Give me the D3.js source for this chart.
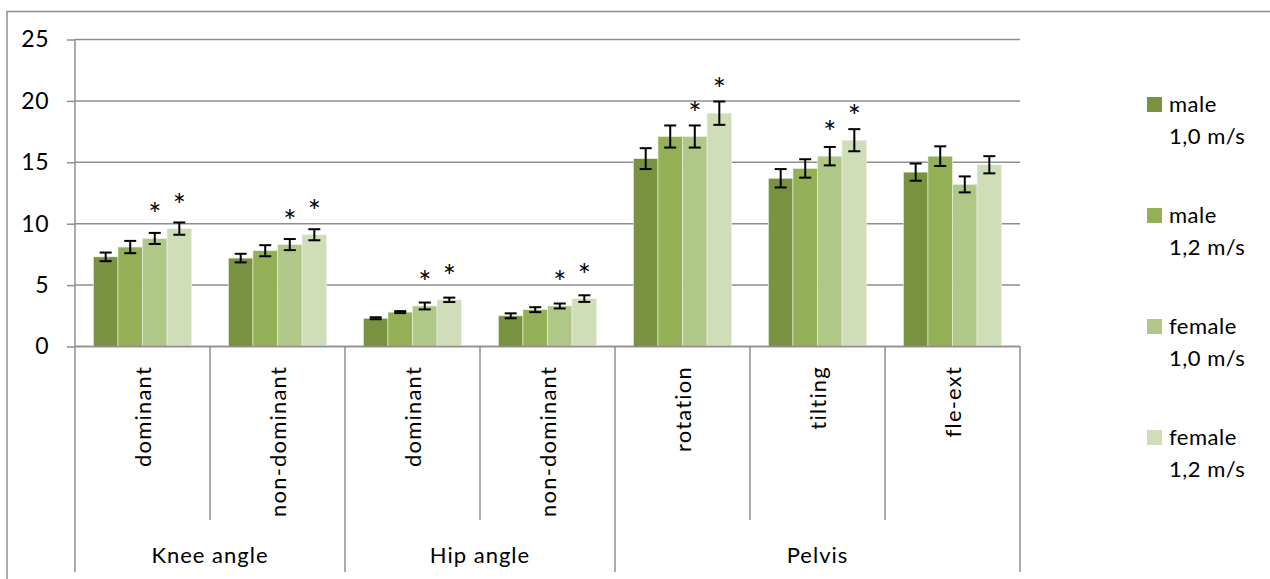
<!DOCTYPE html>
<html>
<head>
<meta charset="utf-8">
<script src="https://cdn.jsdelivr.net/npm/d3@7"></script>
<style>
  html, body { margin: 0; padding: 0; background: #ffffff; }
  svg { display: block; font-family: Lato, "Open Sans", sans-serif; }
</style>
</head>
<body>
<svg id="chart" width="1270" height="579"></svg>
<script>
// Joint angle ranges by body region, sex and walking speed
const categories = ["dominant", "non-dominant", "dominant", "non-dominant", "rotation", "tilting", "fle-ext"];
const groupNames = ["Knee angle", "Hip angle", "Pelvis"];
const groupSizes = [2, 2, 3];

const seriesNames = [["male", "1,0 m/s"], ["male", "1,2 m/s"], ["female", "1,0 m/s"], ["female", "1,2 m/s"]];
const male10   = [7.3, 7.2, 2.3, 2.5, 15.3, 13.7, 14.2];
const male12   = [8.1, 7.8, 2.8, 3.0, 17.1, 14.5, 15.5];
const female10 = [8.8, 8.3, 3.3, 3.3, 17.1, 15.5, 13.2];
const female12 = [9.6, 9.1, 3.8, 3.9, 19.0, 16.8, 14.8];

const male10Err   = [0.35, 0.35, 0.08, 0.20, 0.85, 0.75, 0.70];
const male12Err   = [0.50, 0.45, 0.08, 0.20, 0.90, 0.75, 0.80];
const female10Err = [0.45, 0.45, 0.28, 0.20, 0.90, 0.75, 0.65];
const female12Err = [0.50, 0.45, 0.18, 0.27, 0.95, 0.90, 0.70];

// significance markers (1 = "*")
const male10Sig   = [0, 0, 0, 0, 0, 0, 0];
const male12Sig   = [0, 0, 0, 0, 0, 0, 0];
const female10Sig = [1, 1, 1, 1, 1, 1, 0];
const female12Sig = [1, 1, 1, 1, 1, 1, 0];

const yTicks = [0, 5, 10, 15, 20, 25];

const seriesValues = [male10, male12, female10, female12];
const seriesErr = [male10Err, male12Err, female10Err, female12Err];
const seriesSig = [male10Sig, male12Sig, female10Sig, female12Sig];
const colors = ["#79923f", "#93b056", "#afc787", "#cfddb8"];

const svg = d3.select("#chart");
const grey = "#8e8e8e";

// outer chart frame
svg.append("rect")
  .attr("x", 7).attr("y", 11.5)
  .attr("width", 1280).attr("height", 600)
  .attr("fill", "none").attr("stroke", grey).attr("stroke-width", 1.5);

const plot = { left: 75, right: 1020, top: 39.5, bottom: 346.5 };

const y = d3.scaleLinear().domain([0, 25]).range([plot.bottom, plot.top]);
const idx = d3.range(categories.length);
const x = d3.scaleBand().domain(idx).range([plot.left, plot.right]).paddingInner(0).paddingOuter(0);
const xs = d3.scaleBand().domain(d3.range(4)).range([0, x.bandwidth()]).paddingInner(0).paddingOuter(0.75);

// y axis ticks and labels
const yAxis = d3.axisLeft(y).tickValues(yTicks).tickSize(8).tickPadding(18).tickFormat(d3.format("d"));
const yg = svg.append("g").attr("transform", `translate(${plot.left},0)`).call(yAxis);
yg.select(".domain").remove();
yg.selectAll(".tick line").attr("stroke", grey).attr("stroke-width", 1.5);
yg.selectAll(".tick text").attr("font-size", 23).attr("letter-spacing", 0.5).attr("fill", "#000").attr("font-family", "Lato, sans-serif");

// horizontal gridlines
svg.append("g").selectAll("line").data(yTicks).join("line")
  .attr("x1", plot.left).attr("x2", plot.right)
  .attr("y1", d => y(d)).attr("y2", d => y(d))
  .attr("stroke", grey).attr("stroke-width", 1.5);

// y axis line
svg.append("line")
  .attr("x1", plot.left).attr("x2", plot.left)
  .attr("y1", plot.top).attr("y2", plot.bottom)
  .attr("stroke", grey).attr("stroke-width", 1.5);

// bars
const barData = [];
seriesValues.forEach((vals, s) => vals.forEach((v, i) => barData.push({ s, i, v, e: seriesErr[s][i], sig: seriesSig[s][i] })));

svg.append("g").selectAll("rect").data(barData).join("rect")
  .attr("x", d => x(d.i) + xs(d.s))
  .attr("y", d => y(d.v))
  .attr("width", xs.bandwidth())
  .attr("height", d => y(0) - y(d.v))
  .attr("fill", d => colors[d.s])
  .attr("stroke", "#eef2e6").attr("stroke-width", 0.6);

// error bars
const eb = svg.append("g").attr("stroke", "#000").attr("stroke-width", 2).attr("fill", "none");
barData.forEach(d => {
  const cx = x(d.i) + xs(d.s) + xs.bandwidth() / 2;
  const y1 = y(d.v + d.e), y2 = y(d.v - d.e);
  eb.append("line").attr("x1", cx).attr("x2", cx).attr("y1", y1).attr("y2", y2);
  eb.append("line").attr("x1", cx - 6).attr("x2", cx + 6).attr("y1", y1).attr("y2", y1);
  eb.append("line").attr("x1", cx - 6).attr("x2", cx + 6).attr("y1", y2).attr("y2", y2);
});

// significance asterisks as outside-end labels
svg.append("g").selectAll("text").data(barData.filter(d => d.sig)).join("text")
  .attr("x", d => x(d.i) + xs(d.s) + xs.bandwidth() / 2)
  .attr("y", d => y(d.v) - 13)
  .attr("text-anchor", "middle")
  .attr("font-size", 31)
  .attr("fill", "#000")
  .text("*");

// category axis: separators
const groupStarts = [0];
groupSizes.forEach((n, k) => groupStarts.push(groupStarts[k] + n));
const axis = svg.append("g").attr("stroke", grey).attr("stroke-width", 1.5);
axis.append("line").attr("x1", plot.left).attr("x2", plot.right).attr("y1", plot.bottom).attr("y2", plot.bottom);
d3.range(categories.length + 1).forEach(k => {
  const xx = k < categories.length ? x(k) : plot.right;
  const isGroup = groupStarts.includes(k);
  axis.append("line")
    .attr("x1", xx).attr("x2", xx)
    .attr("y1", plot.bottom).attr("y2", isGroup ? 572 : 520);
});

// rotated category labels
svg.append("g").selectAll("text").data(idx).join("text")
  .attr("transform", i => `translate(${x(i) + x.bandwidth() / 2 + 8},366) rotate(-90)`)
  .attr("text-anchor", "end")
  .attr("font-size", 22)
  .attr("letter-spacing", 1.2)
  .attr("fill", "#000")
  .text(i => categories[i]);

// group labels
svg.append("g").selectAll("text").data(groupNames).join("text")
  .attr("x", (g, k) => (x(groupStarts[k]) + (groupStarts[k + 1] < categories.length ? x(groupStarts[k + 1]) : plot.right)) / 2)
  .attr("y", 563)
  .attr("text-anchor", "middle")
  .attr("font-size", 22)
  .attr("letter-spacing", 1)
  .attr("fill", "#000")
  .text(g => g);

// legend
const legend = svg.append("g").attr("transform", "translate(1147,97)");
const li = legend.selectAll("g").data(seriesNames).join("g")
  .attr("transform", (d, k) => `translate(0,${k * 111})`);
li.append("rect").attr("width", 15).attr("height", 15).attr("fill", (d, k) => colors[k]);
li.append("text").attr("x", 22).attr("y", 15).attr("font-size", 22).attr("letter-spacing", 0.5).attr("fill", "#000").text(d => d[0]);
li.append("text").attr("x", 22).attr("y", 47).attr("font-size", 22).attr("letter-spacing", 0.5).attr("fill", "#000").text(d => d[1]);
</script>
</body>
</html>
